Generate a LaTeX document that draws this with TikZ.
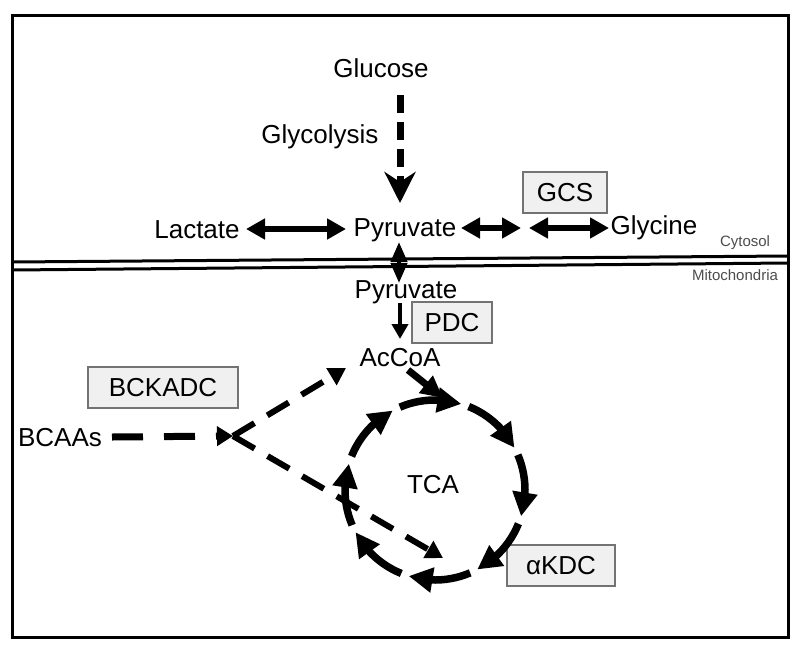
\documentclass[tikz,border=0pt]{standalone}
\usepackage{fontspec}
\setmainfont{Liberation Sans}
\usetikzlibrary{arrows.meta,bending}
\begin{document}
\begin{tikzpicture}[x=1pt,y=-1pt,
  lbl/.style={font=\fontsize{26}{30}\selectfont, inner sep=0pt},
  smalllbl/.style={font=\fontsize{15}{17}\selectfont, text=black!70, inner sep=0pt},
  enz/.style={draw=black!55, line width=1.6pt, fill=black!6, font=\fontsize{26}{30}\selectfont, inner sep=0pt, minimum height=41pt},
  dblarrow/.style={line width=6pt, {Triangle[length=19pt,width=20pt]}-{Triangle[length=19pt,width=20pt]}},
  glyarrow/.style={line width=7pt, dash pattern=on 18pt off 9pt, -{Stealth[length=31pt,width=31pt,inset=10pt]}},
  bcarrow/.style={line width=7pt, dash pattern=on 31pt off 21pt, -{Triangle[length=16pt,width=19pt]}},
  brarrow/.style={line width=6pt, dash pattern=on 25pt off 15pt, -{Triangle[length=17pt,width=19pt]}},
  thinarrow/.style={line width=4pt, -{Triangle[length=15pt,width=16pt]}},
  solidarrow/.style={line width=7pt, -{Triangle[length=22pt,width=21pt]}},
  cyc/.style={line width=7.5pt, -{Triangle[length=24pt,width=24pt,flex]}}]
\useasboundingbox (0,0) rectangle (800,651);
% frame and membrane
\draw[line width=3pt] (12,15) rectangle (788,637);
\draw[line width=3pt] (12,262) -- (788,256);
\draw[line width=3pt] (12,270) -- (788,263);
% text nodes
\node[lbl] (glucose) at (381,68) {Glucose};
\node[lbl] (glycolysis) at (320,137) {Glycolysis};
\node[lbl] (pyrc) at (405,230) {Pyruvate};
\node[lbl] (lactate) at (197,230) {Lactate};
\node[lbl] (glycine) at (654,228) {Glycine};
\node[smalllbl] (cytosol) at (745,243) {Cytosol};
\node[smalllbl] (mito) at (735,275) {Mitochondria};
\node[lbl] (pyrm) at (406,292) {Pyruvate};
\node[lbl] (accoa) at (400,358) {AcCoA};
\node[lbl] (bcaas) at (60,438) {BCAAs};
\node[lbl] (tca) at (433,485) {TCA};
% enzyme boxes
\node[enz, minimum width=84pt] (gcs) at (565,192.5) {GCS};
\node[enz, minimum width=80pt] (pdc) at (452,322.5) {PDC};
\node[enz, minimum width=150pt] (bckadc) at (163,387.5) {BCKADC};
\node[enz, minimum width=108pt] (akdc) at (561,565.5) {αKDC};
% connector end points
\coordinate (glyA) at (400,95);
\coordinate (glyB) at (400,203);
\coordinate (lacR) at (246,229);
\coordinate (pyrL) at (346,229);
\coordinate (pyrR) at (461,228);
\coordinate (midL) at (521,228);
\coordinate (midR) at (529,228);
\coordinate (glyL) at (609,228);
\coordinate (memT) at (399,242);
\coordinate (memB) at (399,283);
\coordinate (pdcT) at (400,303);
\coordinate (pdcB) at (400,339);
\coordinate (acS) at (408,370);
\coordinate (acE) at (443,398);
\coordinate (bcS) at (112,437);
\coordinate (branch) at (233,436);
\coordinate (acIn) at (346,368);
\coordinate (kdIn) at (443,558);
% connectors
\draw[glyarrow] (glyA) -- (glyB);
\draw[dblarrow] (lacR) -- (pyrL);
\draw[dblarrow] (pyrR) -- (midL);
\draw[dblarrow] (midR) -- (glyL);
\draw[line width=4pt, {Triangle[length=20pt,width=16pt]}-{Triangle[length=20pt,width=16pt]}] (memT) -- (memB);
\draw[thinarrow] (pdcT) -- (pdcB);
\draw[solidarrow] (acS) -- (acE);
\draw[bcarrow] (bcS) -- (branch);
\draw[brarrow] (branch) -- (acIn);
\draw[brarrow] (branch) -- (kdIn);
% TCA cycle
\begin{scope}[shift={(435,490)}]
\foreach \s in {113,68,23,-22,-67,-112,-157,-202}{
  \draw[cyc] (\s:90pt) arc[start angle=\s, end angle=\s-40, radius=90pt];
}
\end{scope}
\end{tikzpicture}
\end{document}
